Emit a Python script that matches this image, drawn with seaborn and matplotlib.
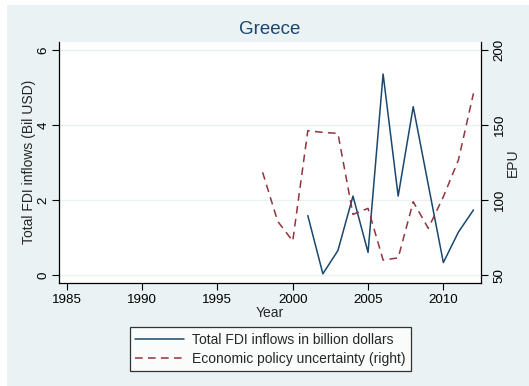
import matplotlib
matplotlib.use("Agg")
import matplotlib.pyplot as plt
from matplotlib.patches import Rectangle
import seaborn as sns
import pandas as pd

# Greece: FDI inflows (billion USD) and economic policy uncertainty index
fdi_years = [2001, 2002, 2003, 2004, 2005, 2006, 2007, 2008, 2009, 2010, 2011, 2012]
fdi_values = [1.59, 0.04, 0.66, 2.11, 0.61, 5.36, 2.11, 4.49, 2.41, 0.34, 1.15, 1.74]

epu_years = [1998, 1999, 2000, 2001, 2002, 2003, 2004, 2005, 2006, 2007, 2008, 2009, 2010, 2011, 2012]
epu_values = [118.6, 86.0, 72.8, 146.3, 145.2, 144.5, 90.6, 94.6, 60.2, 61.6, 99.0, 81.3, 102.3, 126.8, 171.2]

x_ticks = [1985, 1990, 1995, 2000, 2005, 2010]
left_ticks = [0, 2, 4, 6]
right_ticks = [50, 100, 150, 200]

title = "Greece"
fdi_label = "Total FDI inflows in billion dollars"
epu_label = "Economic policy uncertainty (right)"

NAVY = "#1a476f"
MAROON = "#90353b"
BG = "#eaf2f3"

sns.set_theme(style="white")
plt.rcParams["font.family"] = ["Liberation Sans", "DejaVu Sans"]

fdi_df = pd.DataFrame({"Year": fdi_years, "FDI": fdi_values})
epu_df = pd.DataFrame({"Year": epu_years, "EPU": epu_values})

fig = plt.figure(figsize=(5.29, 3.86), dpi=100, facecolor="white")
fig.patches.append(Rectangle((7 / 529, 0), 1 - 7 / 529, 1 - 5 / 386,
                             transform=fig.transFigure, facecolor=BG,
                             edgecolor="none", zorder=-10))

ax_left, ax_right, ax_top, ax_bottom = 59, 481, 41.5, 283
ax = fig.add_axes([ax_left / 529, 1 - ax_bottom / 386,
                   (ax_right - ax_left) / 529, (ax_bottom - ax_top) / 386])
ax.set_facecolor("white")
ax2 = ax.twinx()

sns.lineplot(data=fdi_df, x="Year", y="FDI", ax=ax, color=NAVY, lw=1.1,
             label=fdi_label, legend=False)
sns.lineplot(data=epu_df, x="Year", y="EPU", ax=ax2, color=MAROON, lw=1.1,
             linestyle=(0, (5, 3.5)), label=epu_label, legend=False)

ax.set_xlim(1984.48, 2012.5)
ax.set_ylim(-0.205, 6.226)
ax2.set_ylim(44.9, 205.7)

ax.set_xticks(x_ticks)
ax.set_yticks(left_ticks)
ax2.set_yticks(right_ticks)

ax.grid(axis="y", color=BG, lw=1.0)
ax.set_axisbelow(True)

TICK_FS = 9.6
LABEL_FS = 10

for a in (ax, ax2):
    for s in a.spines.values():
        s.set_visible(False)
    a.tick_params(length=5, width=0.8, color="black", labelsize=TICK_FS,
                  labelcolor="black", direction="out", pad=3)
ax.spines["left"].set_visible(True)
ax.spines["bottom"].set_visible(True)
ax2.spines["right"].set_visible(True)
for key, a in (("left", ax), ("bottom", ax), ("right", ax2)):
    a.spines[key].set_color("black")
    a.spines[key].set_linewidth(0.9)

ax.tick_params(axis="y", left=True, labelrotation=90, pad=2)
ax.tick_params(axis="x", bottom=True)
ax2.tick_params(axis="y", right=True, labelrotation=90, pad=4)
for lab in ax.get_yticklabels() + ax2.get_yticklabels():
    lab.set_verticalalignment("center")

ax.set_xlabel("Year", fontsize=LABEL_FS, labelpad=0)
ax.set_ylabel("Total FDI inflows (Bil USD)", fontsize=LABEL_FS, labelpad=1)
ax2.set_ylabel("EPU", fontsize=LABEL_FS, labelpad=0)

fig.text((ax_left + ax_right) / 2 / 529, 1 - 30 / 386, title, ha="center",
         va="center", fontsize=13.5, color=NAVY)

handles = ax.get_lines()[:1] + ax2.get_lines()[:1]
leg = fig.legend(handles, [fdi_label, epu_label], loc="center",
                 bbox_to_anchor=(270.5 / 529, 1 - 349.2 / 386),
                 fontsize=LABEL_FS, frameon=True, fancybox=False, ncol=1,
                 handlelength=3.5, handletextpad=0.6, labelspacing=0.35,
                 borderpad=0.4, borderaxespad=0)
leg.get_frame().set_edgecolor("black")
leg.get_frame().set_linewidth(0.9)
leg.get_frame().set_facecolor("white")

fig.savefig("out.png", dpi=100, facecolor=fig.get_facecolor())
